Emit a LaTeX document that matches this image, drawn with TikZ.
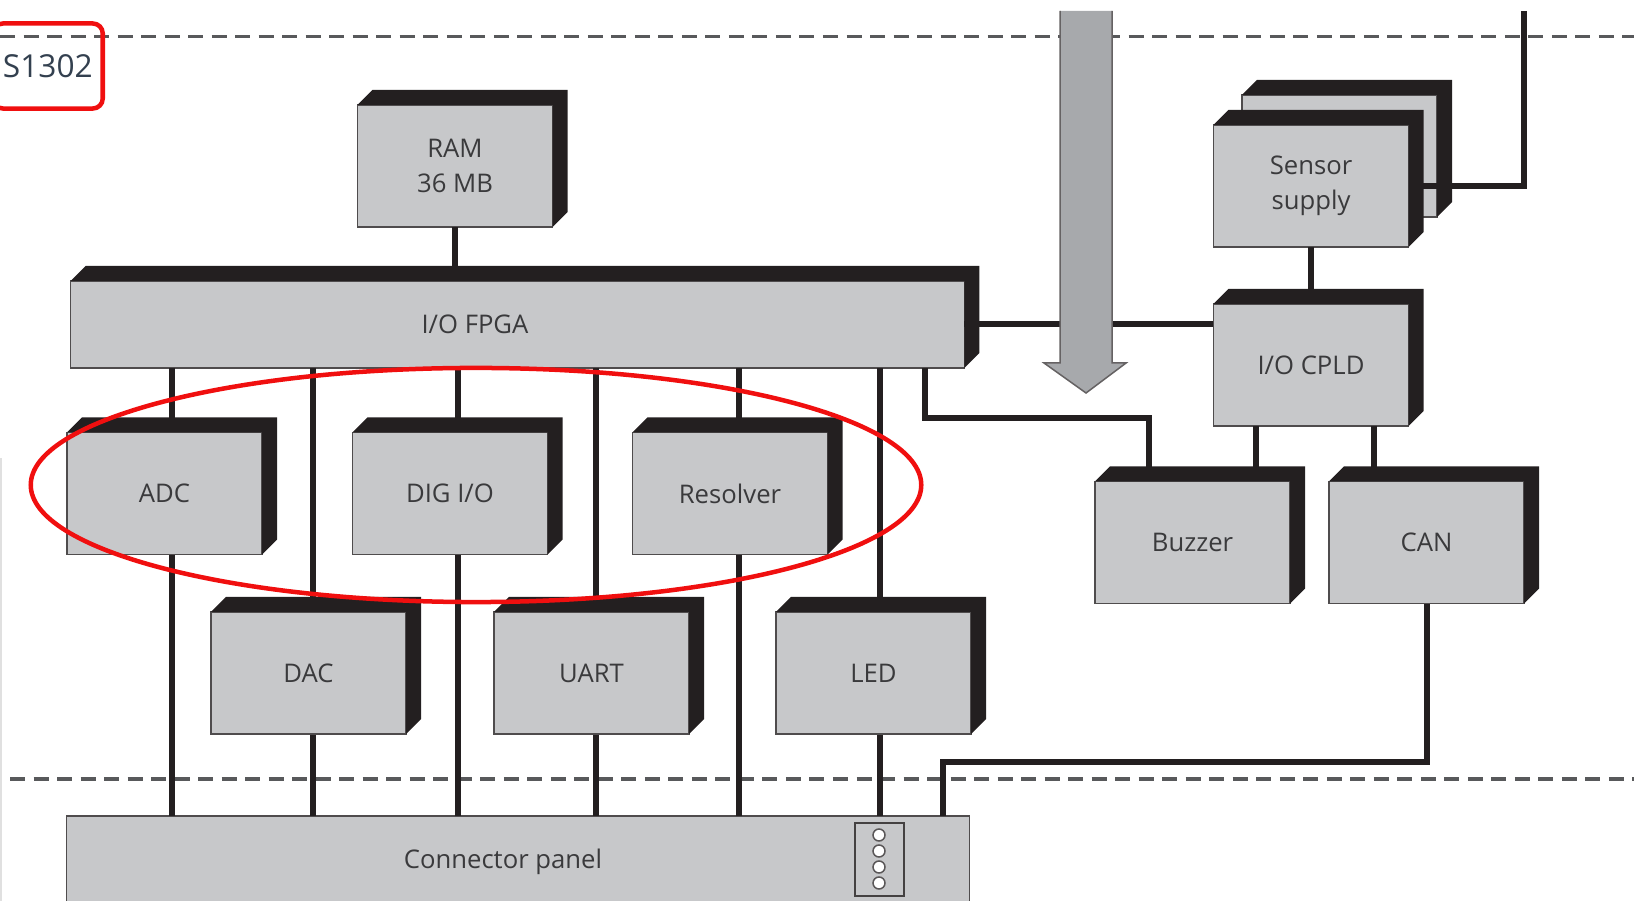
\documentclass[tikz,border=0pt]{standalone}
\usepackage{fontspec}
\setmainfont{Open Sans}
\usetikzlibrary{calc}

\definecolor{boxgrey}{HTML}{C7C8CA}
\definecolor{ink}{HTML}{231F20}
\definecolor{txtgrey}{HTML}{3A3A3C}
\definecolor{arrowgrey}{HTML}{A7A9AC}
\definecolor{dashgrey}{HTML}{58595B}
\definecolor{markred}{HTML}{F00F0F}
\definecolor{tagtext}{HTML}{33404F}

% black top and right faces of a box
\newcommand{\extrude}[1]{\fill[ink] (#1.north west) -- ++(15,-15) -| ($(#1.south east)+(15,-15)$) -- (#1.south east) -- (#1.north east) -- cycle;}

\begin{document}
\begin{tikzpicture}[
  x=0.01cm, y=-0.01cm,
  font=\fontsize{7.3}{9.8}\selectfont,
  blk/.style={draw=ink!80, line width=0.015cm, fill=boxgrey, text=txtgrey, align=center, minimum width=1.95cm, minimum height=1.22cm, inner sep=0pt, outer sep=0pt},
  ln/.style={draw=ink, line width=0.06cm},
  sep/.style={draw=dashgrey, line width=0.03cm, dash pattern=on 0.15cm off 0.085cm},
  redmark/.style={draw=markred, line width=0.045cm}
]
\useasboundingbox (0,0) rectangle (1634,901);

% zone borders
\draw[sep] (0,37) -- (1634,37);
\draw[sep] (10,779) -- (1634,779);
\draw[black!12, line width=0.015cm] (1,458) -- (1,901);

\node[redmark, rounded corners=0.1cm, anchor=east, minimum height=0.85cm, inner xsep=0.1cm, inner ysep=0pt, text=tagtext, font=\fontsize{9}{11}\selectfont] (tag) at (105,66) {S1302};

% main board
\node[blk] (ram) at (455,166) {RAM\\36 MB}; \extrude{ram}
\node[blk, minimum width=8.93cm, minimum height=0.87cm, label={[text=txtgrey, xshift=-0.425cm]center:I/O FPGA}] (fpga) at (517.5,324.5) {}; \extrude{fpga}
\node[blk, minimum width=9.02cm, minimum height=0.92cm, label={[text=txtgrey, xshift=-0.15cm]center:Connector panel}] (panel) at (518,862) {};

\draw[ln] (ram.south) -- (ram.south |- fpga.north);
\foreach \x in {172,313,458,596,739,880}
  \draw[ln] (fpga.south -| \x,0) -- (panel.north -| \x,0);

\node[blk] (adc) at (164.5,493.5) {ADC}; \extrude{adc}
\node[blk] (dig) at (450,493.5) {DIG I/O}; \extrude{dig}
\node[blk] (res) at (730,493.5) {Resolver}; \extrude{res}
\node[blk] (dac) at (308.5,673) {DAC}; \extrude{dac}
\node[blk] (uart) at (591.5,673) {UART}; \extrude{uart}
\node[blk] (led) at (873.5,673) {LED}; \extrude{led}

\node[draw=ink!85, line width=0.02cm, fill=boxgrey, minimum width=0.49cm, minimum height=0.73cm, inner sep=0pt] (plug) at (879.5,859.5) {};
\foreach \y in {835,851,867,883}
  \draw[ink!75, fill=white, line width=0.015cm] (879,\y) circle (0.06cm);

% right side
\node[blk] (senb) at (1339.5,156) {}; \extrude{senb}
\node[blk] (sen) at (1311,186) {Sensor\\supply}; \extrude{sen}
\node[blk] (cpld) at (1311,365) {I/O CPLD}; \extrude{cpld}
\node[blk] (buz) at (1192.5,542.5) {Buzzer}; \extrude{buz}
\node[blk] (can) at (1426.5,542.5) {CAN}; \extrude{can}

\coordinate (bz) at (1149,418);
\coordinate (rt) at (1524,11);
\coordinate (cr) at (943,762);
\draw[ln] (fpga.south -| 925,0) |- (bz) -- (bz |- buz.north);
\draw[ln] (fpga.east) -- (fpga.east -| cpld.west);
\draw[ln] (sen.south) -- (cpld.north);
\draw[ln] (rt) |- (sen.east);
\draw[ln] (cpld.south -| 1255.6,0) -- (buz.north -| 1255.6,0);
\draw[ln] (cpld.south -| 1374,0) -- (can.north -| 1374,0);
\draw[ln] (can.south) |- (cr) -- (cr |- panel.north);

% supply arrow
\fill[arrowgrey] (1060,11) -- (1060,363) -- (1044,363) -- (1086,393) -- (1126,363) -- (1112,363) -- (1112,11) -- cycle;
\draw[ink!70, line width=0.015cm] (1060,11) -- (1060,363) -- (1044,363) -- (1086,393) -- (1126,363) -- (1112,363) -- (1112,11);

\draw[redmark] (476,485) ellipse [x radius=4.45cm, y radius=1.17cm];
\end{tikzpicture}
\end{document}
